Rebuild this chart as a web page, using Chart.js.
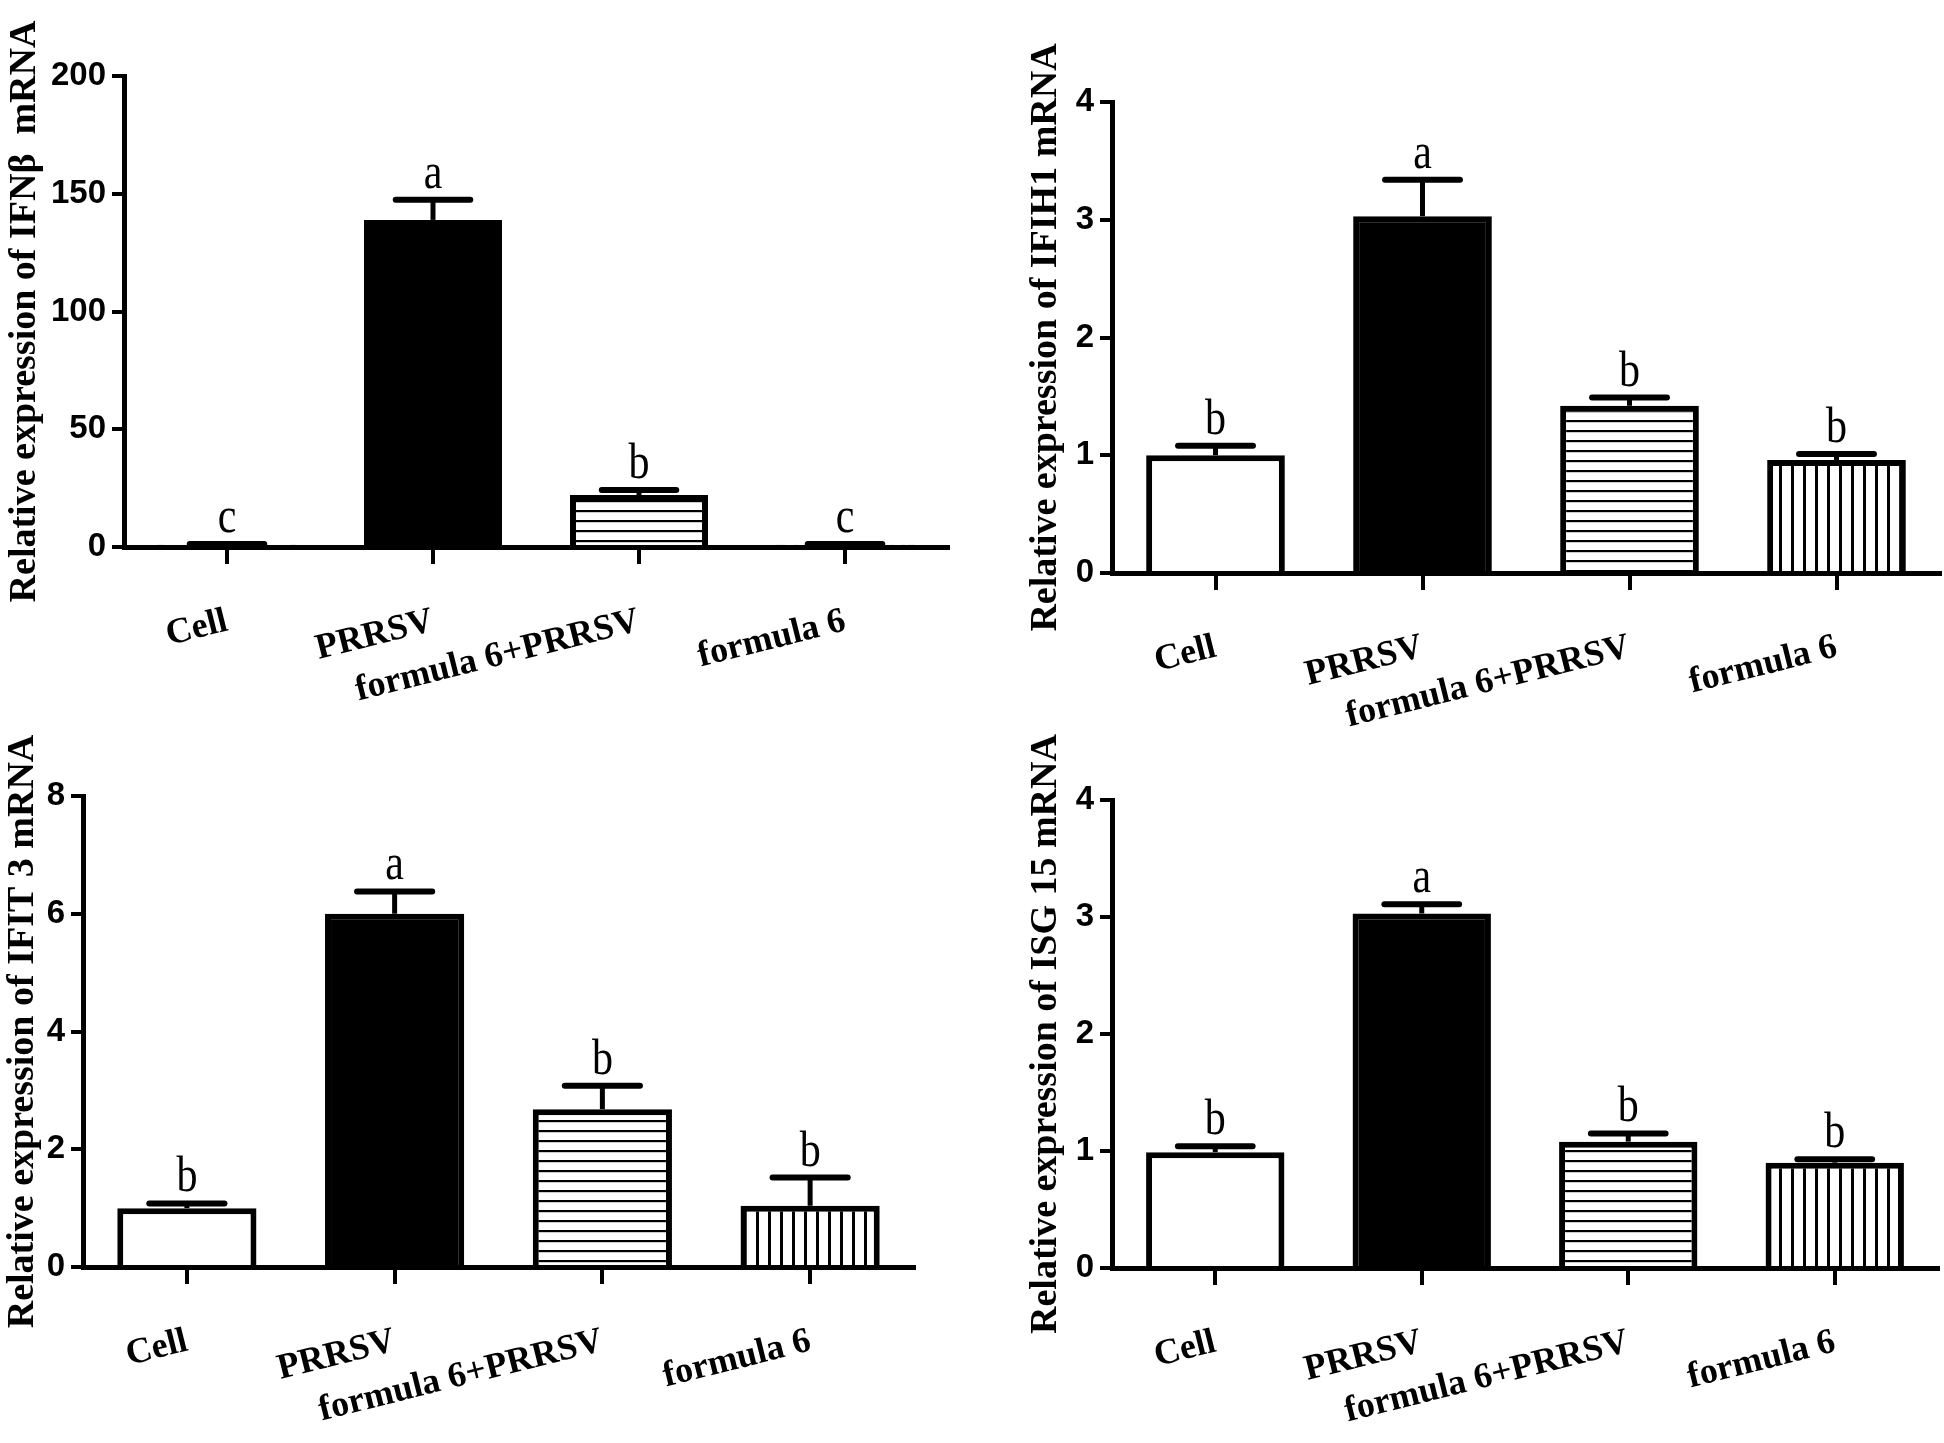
<!DOCTYPE html>
<html>
<head>
<meta charset="utf-8">
<script src="https://cdn.jsdelivr.net/npm/chart.js@4.4.1/dist/chart.umd.min.js"></script>
<style>
  html, body { margin: 0; padding: 0; background: #fff; }
  body { width: 1944px; height: 1443px; position: relative; overflow: hidden; }
  canvas { position: absolute; }
</style>
</head>
<body>
<canvas id="ifnb"></canvas>
<canvas id="ifih1"></canvas>
<canvas id="ifit3"></canvas>
<canvas id="isg15"></canvas>
<script>
// groups on the x axis (same for every panel)
const groups = ['Cell', 'PRRSV', 'formula 6+PRRSV', 'formula 6'];

// IFNβ
const ifnbMean = [1, 138.9, 22.1, 1];
const ifnbSem = [0.3, 8.5, 2.1, 0.3];
const ifnbLetters = ['c', 'a', 'b', 'c'];
const ifnbTicks = [0, 50, 100, 150, 200];

// IFIH1
const ifih1Mean = [1.0, 3.03, 1.42, 0.96];
const ifih1Sem = [0.08, 0.31, 0.07, 0.05];
const ifih1Letters = ['b', 'a', 'b', 'b'];
const ifih1Ticks = [0, 1, 2, 3, 4];

// IFIT 3
const ifit3Mean = [1.0, 6.0, 2.68, 1.04];
const ifit3Sem = [0.08, 0.38, 0.40, 0.48];
const ifit3Letters = ['b', 'a', 'b', 'b'];
const ifit3Ticks = [0, 2, 4, 6, 8];

// ISG 15
const isg15Mean = [0.99, 3.03, 1.08, 0.90];
const isg15Sem = [0.05, 0.08, 0.07, 0.03];
const isg15Letters = ['b', 'a', 'b', 'b'];
const isg15Ticks = [0, 1, 2, 3, 4];

function stripePattern(dir) {
    const c = document.createElement('canvas');
    const g = c.getContext('2d');
    if (dir === 'h') {
        c.width = 10; c.height = 10;
        g.fillStyle = '#fff'; g.fillRect(0, 0, 10, 10);
        g.fillStyle = '#000'; g.fillRect(0, 0, 10, 2.2);
    } else {
        c.width = 12; c.height = 12;
        g.fillStyle = '#fff'; g.fillRect(0, 0, 12, 12);
        g.fillStyle = '#000'; g.fillRect(0, 0, 3, 12);
    }
    return g.createPattern(c, 'repeat');
}

// error bar (mean + SEM, upper only) and significance letter
const errorBars = {
    id: 'errorBars',
    afterDatasetsDraw(chart) {
        const ctx = chart.ctx;
        const y = chart.scales.y;
        const ds = chart.data.datasets[0];
        const meta = chart.getDatasetMeta(0);
        ctx.save();
        ctx.strokeStyle = '#000';
        ctx.fillStyle = '#000';
        meta.data.forEach((bar, i) => {
            const top = y.getPixelForValue(ds.data[i]);
            const capY = y.getPixelForValue(ds.data[i] + ds.sem[i]);
            const half = bar.width * 0.27;
            ctx.lineWidth = 5;
            ctx.beginPath();
            ctx.moveTo(bar.x, top);
            ctx.lineTo(bar.x, capY);
            ctx.stroke();
            ctx.lineWidth = 6;
            ctx.lineCap = 'round';
            ctx.beginPath();
            ctx.moveTo(bar.x - half, capY);
            ctx.lineTo(bar.x + half, capY);
            ctx.stroke();
            ctx.lineCap = 'butt';

            ctx.save();
            ctx.translate(bar.x, capY - 12);
            ctx.scale(1, 1.2);
            ctx.font = '42px "Liberation Serif"';
            ctx.textAlign = 'center';
            ctx.textBaseline = 'alphabetic';
            ctx.fillText(ds.letters[i], 0, 0);
            ctx.restore();
        });
        ctx.restore();
    }
};

function makeChart(p) {
    const cv = document.getElementById(p.id);
    cv.width = p.width;
    cv.height = p.height;
    cv.style.left = p.left + 'px';
    cv.style.top = p.top + 'px';

    return new Chart(cv.getContext('2d'), {
        type: 'bar',
        data: {
            labels: groups,
            datasets: [{
                data: p.mean,
                sem: p.sem,
                letters: p.letters,
                backgroundColor: ['#fff', '#000', stripePattern('h'), stripePattern('v')],
                borderColor: '#000',
                borderWidth: 6,
                borderSkipped: 'start',
                barPercentage: 0.67,
                categoryPercentage: 1
            }]
        },
        options: {
            responsive: false,
            animation: false,
            devicePixelRatio: 1,
            layout: { padding: { top: p.padTop, right: p.padRight, left: 0, bottom: 0 } },
            plugins: { legend: { display: false }, tooltip: { enabled: false } },
            scales: {
                x: {
                    offset: true,
                    grid: { offset: false, drawOnChartArea: false, tickLength: 17, lineWidth: 4, color: '#000' },
                    border: { color: '#000', width: 5 },
                    ticks: {
                        color: '#000',
                        font: { family: '"Liberation Serif"', size: 36, weight: 'bold' },
                        minRotation: 14, maxRotation: 14,
                        autoSkip: false,
                        padding: 36
                    },
                    afterFit(s) { s.height = p.xHeight; s.paddingLeft = 0; s.paddingRight = 0; }
                },
                y: {
                    min: 0,
                    max: p.ticks[p.ticks.length - 1],
                    afterBuildTicks(s) { s.ticks = p.ticks.map(v => ({ value: v })); },
                    grid: { drawOnChartArea: false, tickLength: 12, lineWidth: 4, color: '#000' },
                    border: { color: '#000', width: 5 },
                    ticks: {
                        color: '#000',
                        padding: 6,
                        font: { family: '"Liberation Sans"', size: 33, weight: 'bold' }
                    },
                    title: {
                        display: true,
                        text: p.title,
                        color: '#000',
                        padding: 0,
                        font: { family: '"Liberation Serif"', size: 38, weight: 'bold' }
                    },
                    afterFit(s) { s.width = p.yWidth; s.paddingTop = 0; s.paddingBottom = 0; }
                }
            }
        },
        plugins: [errorBars]
    });
}

makeChart({ id: 'ifnb', left: 2, top: 0, width: 970, height: 745, yWidth: 122, padTop: 76, padRight: 24, xHeight: 198,
    mean: ifnbMean, sem: ifnbSem, letters: ifnbLetters, ticks: ifnbTicks,
    title: 'Relative expression of IFNβ  mRNA' });
makeChart({ id: 'ifih1', left: 1023, top: 0, width: 921, height: 745, yWidth: 89, padTop: 102, padRight: 4, xHeight: 172,
    mean: ifih1Mean, sem: ifih1Sem, letters: ifih1Letters, ticks: ifih1Ticks,
    title: 'Relative expression of IFIH1 mRNA' });
makeChart({ id: 'ifit3', left: 0, top: 700, width: 972, height: 743, yWidth: 83, padTop: 96, padRight: 58, xHeight: 176,
    mean: ifit3Mean, sem: ifit3Sem, letters: ifit3Letters, ticks: ifit3Ticks,
    title: 'Relative expression of IFIT 3 mRNA' });
makeChart({ id: 'isg15', left: 1023, top: 700, width: 921, height: 743, yWidth: 89, padTop: 100, padRight: 6, xHeight: 175,
    mean: isg15Mean, sem: isg15Sem, letters: isg15Letters, ticks: isg15Ticks,
    title: 'Relative expression of ISG 15 mRNA' });
</script>
</body>
</html>
